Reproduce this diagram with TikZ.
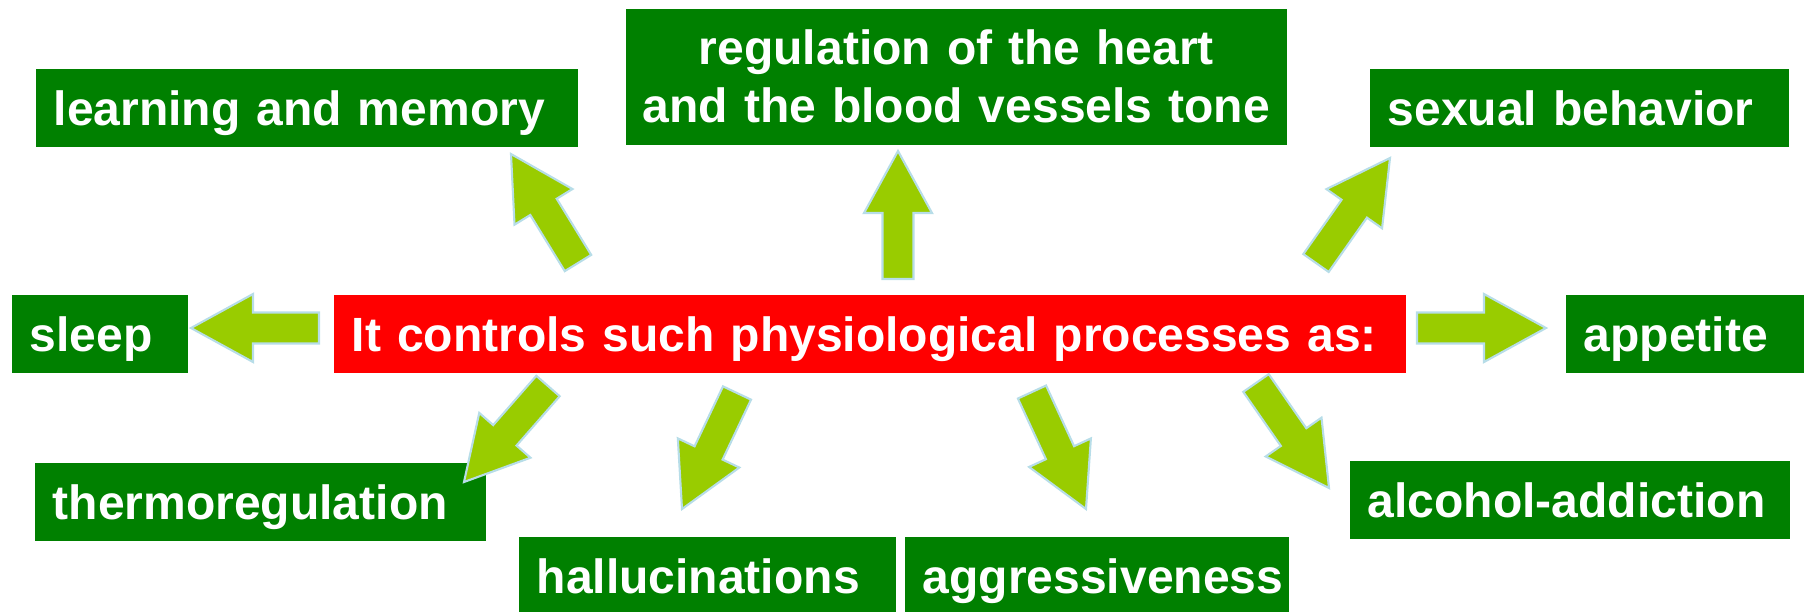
\documentclass[tikz,border=0pt]{standalone}
\usepackage{fontspec}
\setmainfont{Liberation Sans}
\usepackage{tikz}
\usetikzlibrary{calc, positioning}

\definecolor{boxgreen}{HTML}{008000}
\definecolor{boxred}{HTML}{FF0000}
\definecolor{arrowfill}{HTML}{99CC00}
\definecolor{arrowline}{HTML}{B7DDE8}

% block arrow from tail #1 to tip #2
\newcommand{\fatarrow}[2]{%
  \coordinate (#1neck) at ($(#2)!0.62cm!(#1)$);
  \filldraw[fill=arrowfill, draw=arrowline, line width=0.6pt]
    ($(#1)!0.155cm!90:(#2)$) -- ($(#1neck)!0.155cm!90:(#2)$)
    -- ($(#1neck)!0.34cm!90:(#2)$) -- (#2)
    -- ($(#1neck)!0.34cm!-90:(#2)$) -- ($(#1neck)!0.155cm!-90:(#2)$)
    -- ($(#1)!0.155cm!-90:(#2)$) -- cycle;
}

\begin{document}
\begin{tikzpicture}[x=0.01cm, y=-0.01cm,
  tile/.style={fill=boxgreen, text=white, inner xsep=0.18cm, inner ysep=0pt,
    anchor=north west, font=\bfseries\fontsize{13.66}{16.5}\selectfont,
    execute at begin node={\hyphenpenalty=10000 \exhyphenpenalty=10000 }},
  box/.style={tile, align=left, text height=0.57cm, text depth=0.21cm}]
  \useasboundingbox (0,0) rectangle (1808,611);

  % the boxes
  \node[box, fill=boxred, text width=10.36cm] (core) at (333,294) {It controls such physiological processes as:};
  \node[box, text width=5.06cm] (learn) at (35,68) {learning and memory};
  \node[tile, align=center, inner xsep=0pt, text width=6.61cm, minimum height=1.36cm] (heart) at (625,8)
    {regulation of the heart\\and the blood vessels tone};
  \node[box, text width=3.83cm] (sex) at (1369,68) {sexual behavior};
  \node[box, text width=1.40cm] (sleep) at (11,294) {sleep};
  \node[box, text width=2.02cm] (appetite) at (1565,294) {appetite};
  \node[box, text width=4.15cm] (thermo) at (34,462) {thermoregulation};
  \node[box, text width=3.41cm] (halluc) at (518,536) {hallucinations};
  \node[box, text width=3.48cm] (aggr) at (904,536) {aggressiveness};
  \node[box, text width=4.04cm] (alcohol) at (1349,460) {alcohol-addiction};

  % the arrows
  \coordinate (learn-s) at (578,263);    \coordinate (learn-e) at (511,154);
  \coordinate (heart-s) at (898,279);    \coordinate (heart-e) at (898,151);
  \coordinate (sex-s) at (1316,263);     \coordinate (sex-e) at (1390,158);
  \coordinate (sleep-s) at (319,328);    \coordinate (sleep-e) at (191,328);
  \coordinate (appetite-s) at (1417,328); \coordinate (appetite-e) at (1546,328);
  \coordinate (thermo-s) at (548,386);   \coordinate (thermo-e) at (464,482);
  \coordinate (halluc-s) at (737,393);   \coordinate (halluc-e) at (682,509);
  \coordinate (aggr-s) at (1032,392);    \coordinate (aggr-e) at (1086,509);
  \coordinate (alcohol-s) at (1256,383); \coordinate (alcohol-e) at (1329,488);

  \fatarrow{learn-s}{learn-e}
  \fatarrow{heart-s}{heart-e}
  \fatarrow{sex-s}{sex-e}
  \fatarrow{sleep-s}{sleep-e}
  \fatarrow{appetite-s}{appetite-e}
  \fatarrow{thermo-s}{thermo-e}
  \fatarrow{halluc-s}{halluc-e}
  \fatarrow{aggr-s}{aggr-e}
  \fatarrow{alcohol-s}{alcohol-e}
\end{tikzpicture}
\end{document}
